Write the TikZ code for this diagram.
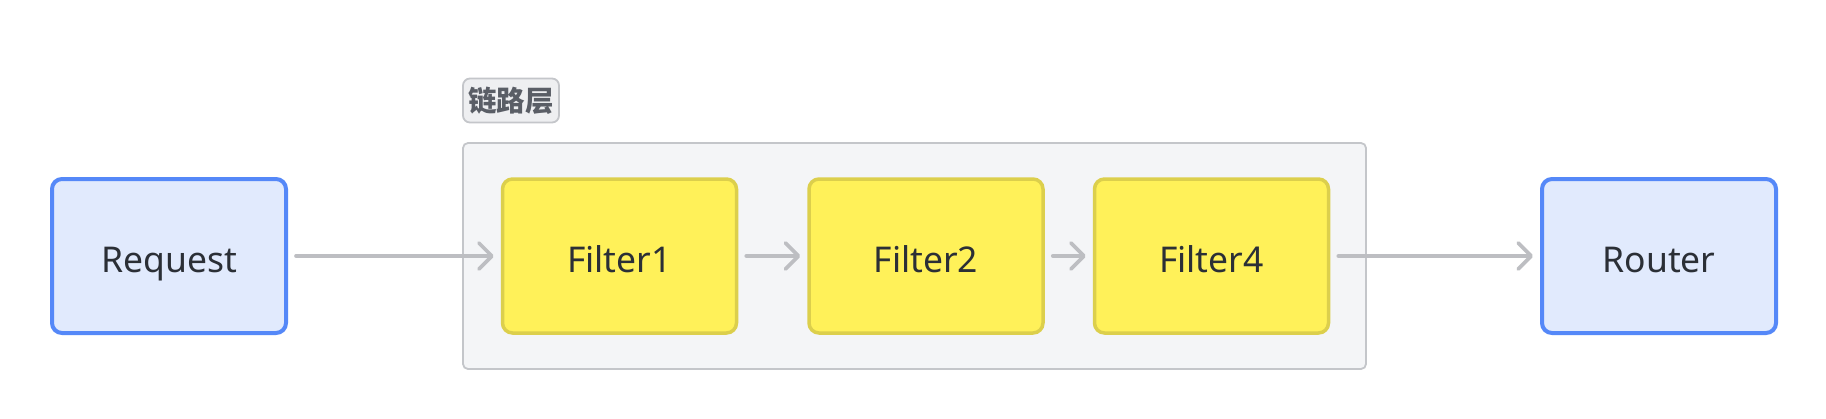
\documentclass[tikz,border=0pt]{standalone}
\usepackage{fontspec}
\setmainfont{Noto Sans}
\newfontfamily\cjk{Noto Sans CJK SC}
\usetikzlibrary{arrows.meta}
\definecolor{bluefill}{HTML}{E1EAFD}
\definecolor{blueline}{HTML}{5588F8}
\definecolor{yelfill}{HTML}{FFF159}
\definecolor{yelline}{HTML}{DCCF4C}
\definecolor{grpfill}{HTML}{F4F5F7}
\definecolor{grpline}{HTML}{C4C6CA}
\definecolor{arrowc}{HTML}{BDBEC2}
\definecolor{txt}{HTML}{2B2F36}
\definecolor{lbltxt}{HTML}{5A5E66}
\definecolor{lblfill}{HTML}{EEEFF1}
\tikzset{
  boxtext/.style={text=txt, font=\fontsize{35.5}{40}\selectfont, inner sep=0pt,
    text height=32pt, text depth=0pt, minimum width=234pt, minimum height=154pt, rounded corners=10pt},
  endbox/.style={boxtext, draw=blueline, fill=bluefill, line width=4pt},
  filterbox/.style={boxtext, draw=yelline, fill=yelfill, line width=3.5pt},
  flow/.style={draw=arrowc, line width=3.6pt, line cap=round,
    -{Straight Barb[length=13pt, width=26pt, line cap=round, line join=round]},
    shorten <=8pt, shorten >=7pt},
}
\begin{document}
\begin{tikzpicture}[x=1pt,y=-1pt]
\useasboundingbox[fill=white] (0,0) rectangle (1826,418);
% group container
\node[draw=grpline, fill=grpfill, line width=1.8pt, rounded corners=5pt, minimum width=903pt, minimum height=226pt, inner sep=0pt] (grp) at (914.5,256) {};
\node[draw=grpline, fill=lblfill, line width=1.8pt, rounded corners=7pt, minimum width=96pt, minimum height=44pt, inner sep=0pt, text=lbltxt, font=\cjk\bfseries\fontsize{28.5}{32}\selectfont] (lbl) at (511,100.5) {链路层};
\node[endbox] (req) at (169,256) {Request};
\node[filterbox] (f1) at (619.5,256) {Filter1};
\node[filterbox] (f2) at (926,256) {Filter2};
\node[filterbox] (f4) at (1211.5,256) {Filter4};
\node[endbox] (router) at (1659,256) {Router};
\draw[flow] (req) -- (f1);
\draw[flow] (f1) -- (f2);
\draw[flow] (f2) -- (f4);
\draw[flow] (f4) -- (router);
\end{tikzpicture}
\end{document}
